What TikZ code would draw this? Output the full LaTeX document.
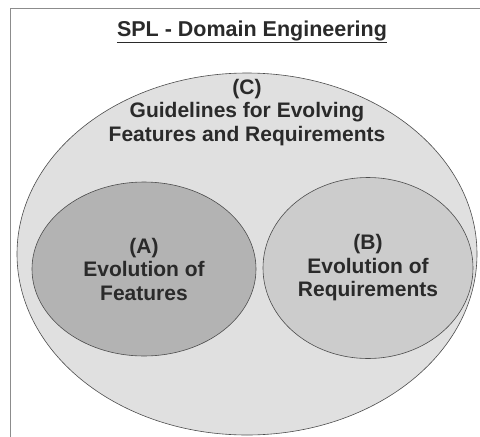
\documentclass[tikz,border=0pt]{standalone}
\usepackage{fontspec}
\setmainfont{Liberation Sans}
\usepackage{xcolor}
\usetikzlibrary{shapes.geometric, positioning}

\definecolor{txtgray}{HTML}{2A2A2A}
\definecolor{edgegray}{HTML}{4D4D4D}
\definecolor{framegray}{HTML}{8C8C8C}
\definecolor{outerfill}{HTML}{E0E0E0}
\definecolor{featfill}{HTML}{B3B3B3}
\definecolor{reqfill}{HTML}{CCCCCC}

\begin{document}
\begin{tikzpicture}[
	x=1pt, y=-1pt,
	font=\fontsize{21}{23.5}\selectfont\bfseries,
	text=txtgray,
	blob/.style={ellipse, draw=edgegray, line width=0.6pt, inner sep=0pt, align=center},
	label/.style={align=center, inner sep=0pt}
	]
	\useasboundingbox (0,0) rectangle (480,437);
	
	% Frame
	\draw[framegray, line width=1pt] (10,437) -- (10,8) -- (480,8);
	
	% Nodes
	\node[label, anchor=base, font=\fontsize{21.5}{24}\selectfont\bfseries] (title) at (252,36) {SPL - Domain Engineering};
	\node[blob, fill=outerfill, minimum width=460pt, minimum height=362pt] (guide) at (247,254) {};
	\node[blob, fill=featfill, minimum width=224pt, minimum height=174pt] (feat) at (144,269) {(A)\\Evolution of\\Features};
	\node[blob, fill=reqfill, minimum width=210pt, minimum height=181pt] (req) at (368,268) {(B)\\Evolution of\\Requirements};
	\node[label, below=6pt of guide.north] (guidetxt) {(C)\\Guidelines for Evolving\\Features and Requirements};
	
	% Underline of the title
	\draw[txtgray, line width=1.8pt] ([yshift=-6.5pt]title.base west) -- ([yshift=-6.5pt]title.base east);
	
\end{tikzpicture}
\end{document}
